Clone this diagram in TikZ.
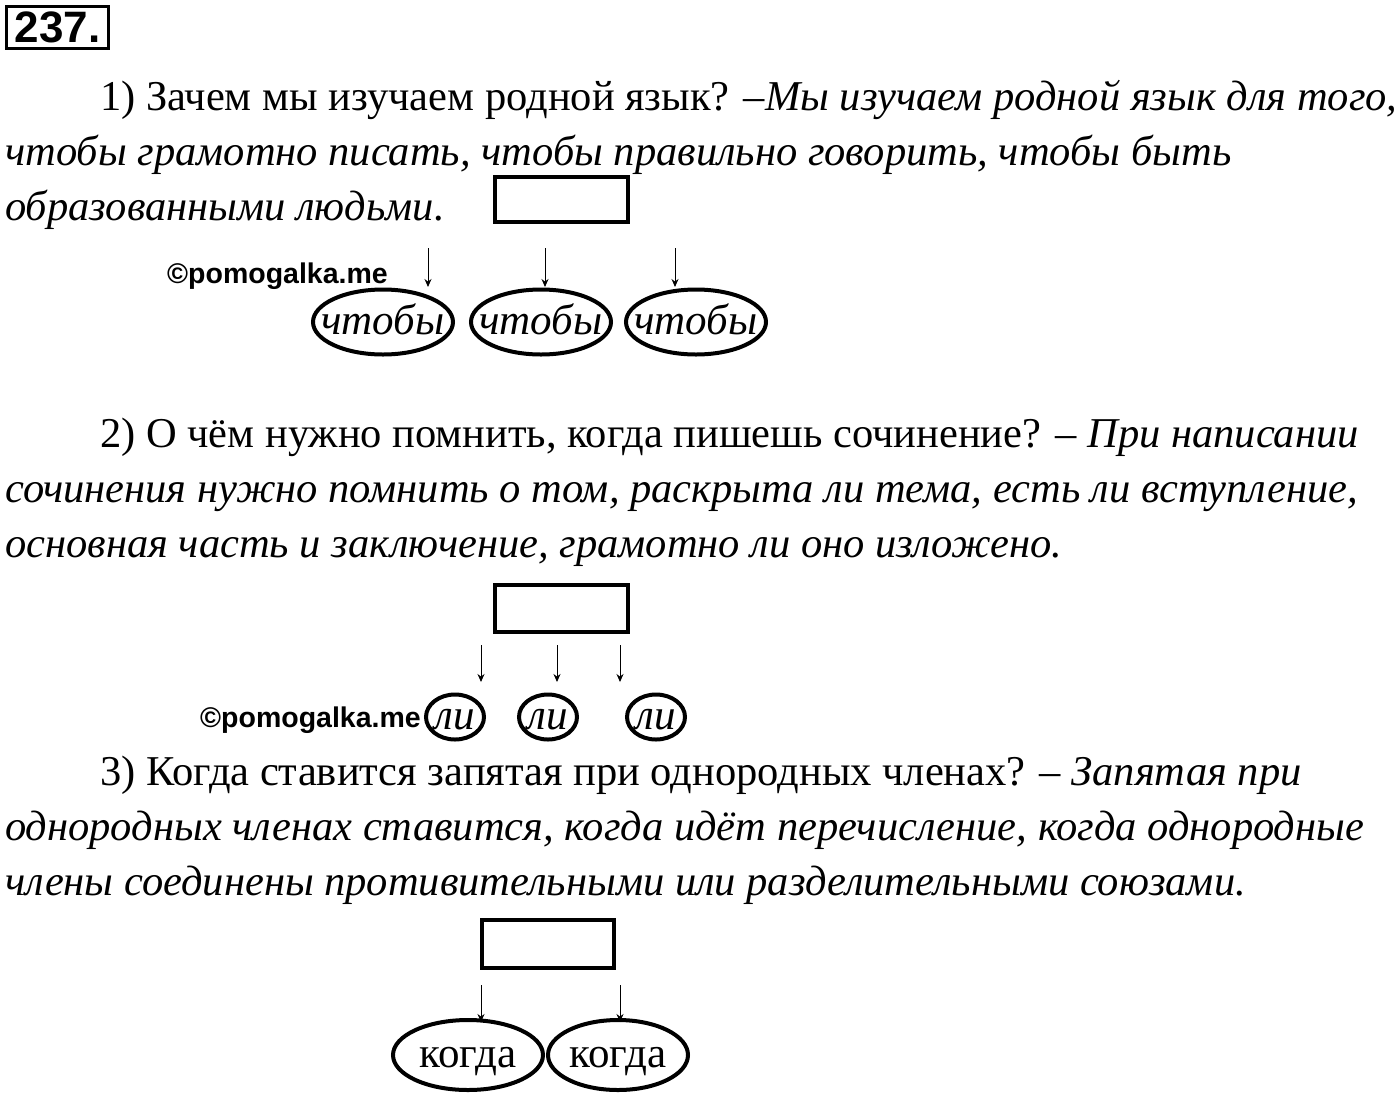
\documentclass[tikz,border=0pt]{standalone}
\usepackage{fontspec}
\setmainfont{Liberation Serif}
\setsansfont{Liberation Sans}
\usetikzlibrary{shapes.geometric,arrows.meta}
\newcommand\ovl[1]{\raisebox{-12pt}[0pt][0pt]{\makebox[0pt]{#1}}}
\begin{document}
\begin{tikzpicture}[x=1pt,y=-1pt,
  txt/.style={anchor=base west,inner sep=0pt,font=\fontsize{42.5}{46}\selectfont},
  box/.style={draw,line width=4pt},
  ell/.style={draw,ellipse,line width=4pt,inner sep=0pt,font=\fontsize{43}{46}\selectfont},
  arr/.style={-{Stealth[length=8pt,width=7pt]},line width=1pt},
  wm/.style={anchor=base west,inner sep=0pt,font=\sffamily\bfseries\fontsize{28.5}{30}\selectfont}]
\useasboundingbox (0,0) rectangle (1400,1093);
\node[draw,line width=3pt,anchor=north west,inner sep=3pt,minimum width=102pt,minimum height=42pt,font=\sffamily\bfseries\fontsize{44}{44}\selectfont] (num) at (5,5) {237.};
% part 1
\node[txt] (l1) at (100,110) {1) Зачем мы изучаем родной язык? \textit{–Мы изучаем родной язык для того,}};
\node[txt] (l2) at (5,165) {\textit{чтобы грамотно писать, чтобы правильно говорить, чтобы быть}};
\node[txt] (l3) at (5,220) {\textit{образованными людьми.}};
\draw[box] (495,177) rectangle (628,222);
\node[wm] (w1) at (167,283) {©pomogalka.me};
\node[ell,minimum width=140pt,minimum height=65pt] (e1) at (383,322) {\ovl{\textit{чтобы}}};
\node[ell,minimum width=140pt,minimum height=65pt] (e2) at (541,322) {\ovl{\textit{чтобы}}};
\node[ell,minimum width=140pt,minimum height=65pt] (e3) at (696,322) {\ovl{\textit{чтобы}}};
\foreach \x/\n in {428/a,545/b,675/c}{
  \coordinate (s\n) at (\x,248); \coordinate (t\n) at (\x,287);
  \draw[arr] (s\n) -- (t\n);}
% part 2
\node[txt] (m1) at (100,447) {2) О чём нужно помнить, когда пишешь сочинение? – \textit{При написании}};
\node[txt] (m2) at (5,502) {\textit{сочинения нужно помнить о том, раскрыта ли тема, есть ли вступление,}};
\node[txt] (m3) at (5,557) {\textit{основная часть и заключение, грамотно ли оно изложено.}};
\draw[box] (495,585) rectangle (628,632);
\node[wm] (w2) at (200,727) {©pomogalka.me};
\node[ell,minimum width=58pt,minimum height=45pt] (f1) at (455,717) {\ovl{\textit{ли}}};
\node[ell,minimum width=58pt,minimum height=45pt] (f2) at (548,717) {\ovl{\textit{ли}}};
\node[ell,minimum width=58pt,minimum height=45pt] (f3) at (656,717) {\ovl{\textit{ли}}};
\foreach \x/\n in {481/d,557/e,620/f}{
  \coordinate (s\n) at (\x,645); \coordinate (t\n) at (\x,682);
  \draw[arr] (s\n) -- (t\n);}
% part 3
\node[txt] (n1) at (100,785) {3) Когда ставится запятая при однородных членах? – \textit{Запятая при}};
\node[txt] (n2) at (5,840) {\textit{однородных членах ставится, когда идёт перечисление, когда однородные}};
\node[txt] (n3) at (5,895) {\textit{члены соединены противительными или разделительными союзами.}};
\draw[box] (482,920) rectangle (614,968);
\node[ell,minimum width=150pt,minimum height=70pt] (g1) at (468,1055) {\ovl{когда}};
\node[ell,minimum width=140pt,minimum height=70pt] (g2) at (618,1055) {\ovl{когда}};
\foreach \x/\n in {481/g,620/h}{
  \coordinate (s\n) at (\x,985); \coordinate (t\n) at (\x,1022);
  \draw[arr] (s\n) -- (t\n);}
\end{tikzpicture}
\end{document}
